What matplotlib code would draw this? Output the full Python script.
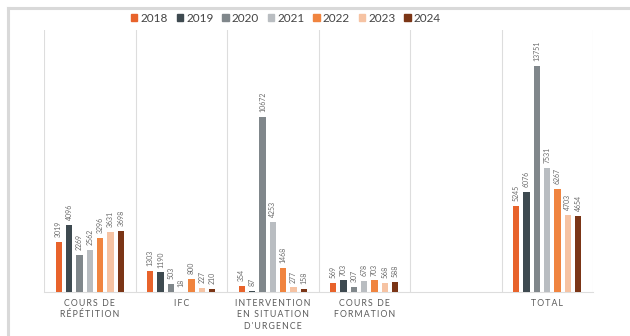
import matplotlib
matplotlib.use("Agg")
import matplotlib.pyplot as plt
import numpy as np
from matplotlib.lines import Line2D
from matplotlib.patches import Rectangle

# categories (one empty column between formation and total)
categories = ["COURS DE\nRÉPÉTITION", "IFC", "INTERVENTION\nEN SITUATION\nD'URGENCE",
              "COURS DE\nFORMATION", "", "TOTAL"]
years = ["2018", "2019", "2020", "2021", "2022", "2023", "2024"]

repetition = [3019, 4096, 2269, 2562, 3296, 3631, 3698]
ifc = [1303, 1190, 503, 18, 800, 227, 210]
intervention = [354, 87, 10672, 4253, 1468, 277, 158]
formation = [569, 703, 307, 678, 703, 568, 588]
total = [5245, 6076, 13751, 7531, 6267, 4703, 4654]

colors = ["#e8632b", "#3e4a50", "#80878b", "#b9bdc1", "#f0843f", "#f6c3a3", "#7b3516"]

# values per category (None for the empty column)
data = [repetition, ifc, intervention, formation, None, total]

plt.rcParams['font.family'] = ['Lato', 'DejaVu Sans']


def spaced(s):
    # letter spacing for the category labels
    lines = []
    for line in s.split("\n"):
        lines.append("\u2009".join(line).replace("\u2009 \u2009", "  "))
    return "\n".join(lines)


fig = plt.figure(figsize=(6.3, 3.36), dpi=100)
ax = fig.add_axes([44/630, 44/336, (593-44)/630, (292-30)/336])

pitch = 0.113
width = 0.068
x = np.arange(len(categories))
for i, vals in enumerate(data):
    if vals is None:
        continue
    for j, v in enumerate(vals):
        xp = x[i] + (j - 3) * pitch
        ax.bar(xp, v, width=width, color=colors[j], zorder=3)
        ax.text(xp, v + 300, str(v), rotation=90, ha="center", va="bottom",
                fontsize=5, color="#6b6b6b")

ax.set_xlim(-0.5, len(categories) - 0.5)
ax.set_ylim(0, 15950)
ax.set_yticks([])
ax.set_xticks(x)
ax.set_xticklabels([spaced(c) for c in categories], fontsize=6.3, color="#5a5a5a",
                   linespacing=1.35)
ax.tick_params(axis="x", length=0, pad=5)

for s in ["top", "right", "left"]:
    ax.spines[s].set_visible(False)
ax.spines["bottom"].set_color("#dddddd")
ax.spines["bottom"].set_linewidth(0.8)

# vertical separators between columns
for b in np.arange(-0.5, len(categories), 1.0):
    ax.axvline(b, color="#dddddd", linewidth=0.8, zorder=1)

# legend
handles = [Rectangle((0, 0), 1, 1, color=c) for c in colors]
fig.legend(handles, years, loc="center", bbox_to_anchor=(286/630, 1 - 18/336),
           ncol=7, frameon=False, fontsize=8.5, handlelength=0.55, handleheight=0.6,
           handletextpad=0.25, columnspacing=0.75, labelcolor="#444444")

# outer frame lines
fig.add_artist(Line2D([8/630, 1], [1 - 8/336, 1 - 8/336], color="#d9d9d9", linewidth=2.2,
                      transform=fig.transFigure))
fig.add_artist(Line2D([8/630, 8/630], [0, 1 - 8/336], color="#d9d9d9", linewidth=2.2,
                      transform=fig.transFigure))

fig.savefig("out.png", dpi=100)
